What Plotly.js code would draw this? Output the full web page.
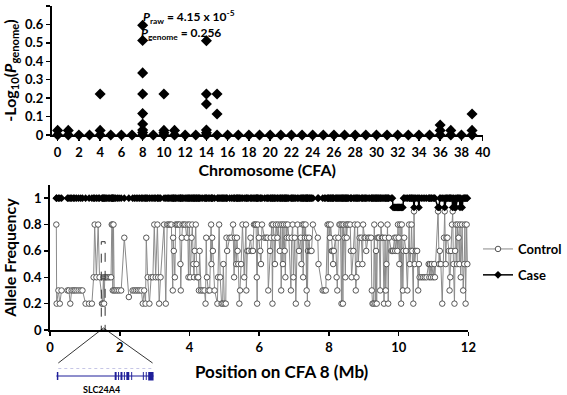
<!DOCTYPE html>
<html><head><meta charset="utf-8">
<script src="https://cdn.plot.ly/plotly-3.0.1.min.js"></script>
<style>html,body{margin:0;padding:0;background:#fff;}#chart{width:567px;height:395px;}</style>
</head><body><div id="chart"></div>
<script>
// ---- Top panel: genome-wide -log10(P_genome) by chromosome ----
const topChromosome = [
  0,1,2,3,4,5,6,7,8,9,10,11,12,13,14,15,16,17,18,19,
  20,21,22,23,24,25,26,27,28,29,30,31,32,33,34,35,36,37,38,39,
  0,1,4,4,8,8,8,8,8,8,8,8,10,10,10,11,14,14,14,14,14,15,15,36,36,37,39,39
];
const topNegLogP = [
  0,0,0,0,0,0,0,0,0,0,0,0,0,0,0,0,0,0,0,0,
  0,0,0,0,0,0,0,0,0,0,0,0,0,0,0,0,0,0,0,0,
  0.025,0.025,0.222,0.025,0.596,0.513,0.337,0.222,0.116,0.06,0.027,0.013,0.222,0.025,0.012,0.025,
  0.511,0.222,0.168,0.027,0.012,0.222,0.114,0.054,0.025,0.025,0.114,0.025
];
const chromTicks = [0,2,4,6,8,10,12,14,16,18,20,22,24,26,28,30,32,34,36,38,40];

// ---- Bottom panel: allele frequency along CFA 8 ----
const positionsMb = [
  0.18,0.19,0.24,0.28,0.33,0.50,0.54,0.58,0.62,0.67,
  0.71,0.76,0.82,0.88,0.93,1.02,1.12,1.20,1.25,1.28,
  1.33,1.38,1.42,1.49,1.51,1.53,1.55,1.57,1.60,1.63,
  1.67,1.71,1.75,1.77,1.79,1.80,1.82,1.84,1.88,1.93,
  1.98,2.04,2.13,2.26,2.37,
  2.42,2.47,2.52,2.57,2.62,2.66,2.70,2.74,2.76,2.80,
  2.85,2.90,2.95,2.99,3.03,3.08,3.10,3.13,3.17,3.27,
  3.32,3.36,3.40,3.44,3.48,3.52,3.53,3.55,3.58,3.60,
  3.64,3.68,3.72,3.74,3.75,3.78,3.80,3.84,3.88,3.92,
  3.95,3.97,4.00,4.02,4.06,4.08,4.11,4.13,4.15,4.18,
  4.20,4.22,4.25,4.27,4.29,4.33,4.38,4.43,4.46,4.48,
  4.50,4.54,4.58,4.62,4.63,4.65,4.67,4.72,4.80,4.82,
  4.85,4.88,4.92,4.95,4.97,5.00,5.04,5.06,5.08,5.15,
  5.20,5.25,5.28,5.30,5.34,5.36,5.38,5.40,5.43,5.45,
  5.48,5.52,5.57,5.62,5.63,5.66,5.70,5.75,5.78,5.82,
  5.85,5.88,5.91,5.93,5.94,5.96,5.99,6.03,6.05,6.08,
  6.15,6.20,6.24,6.26,6.31,6.33,6.36,6.38,6.40,6.43,
  6.45,6.48,6.52,6.54,6.59,6.61,6.63,6.66,6.68,6.71,
  6.73,6.75,6.77,6.79,6.82,6.85,6.91,6.93,6.96,6.98,
  7.02,7.05,7.10,7.14,7.19,7.21,
  7.24,7.26,7.28,7.31,7.33,7.36,7.37,7.38,7.40,7.43,
  7.45,7.48,7.50,7.54,7.68,7.70,7.82,7.87,7.91,7.96,
  7.98,8.00,8.03,8.05,8.08,8.10,8.12,8.14,8.19,8.22,
  8.24,8.27,8.30,8.33,8.36,8.38,8.40,8.42,8.45,8.47,
  8.49,8.51,8.53,8.56,8.61,8.63,8.65,8.70,8.74,8.77,
  8.79,8.82,8.84,8.88,8.93,8.96,8.98,9.02,9.05,9.07,
  9.12,9.16,9.21,9.23,9.25,9.28,9.30,9.33,9.35,9.37,
  9.39,9.42,9.44,9.47,9.49,9.52,9.55,9.58,
  9.61,9.63,9.65,9.68,9.70,9.72,9.79,9.82,9.84,9.88,
  9.90,9.93,9.96,9.98,10.00,10.02,10.04,10.07,10.09,10.12,
  10.14,10.16,10.21,10.25,10.30,10.32,10.35,10.37,10.39,10.42,
  10.44,10.46,10.49,10.53,10.56,10.58,10.60,10.65,10.70,10.75,
  10.80,10.86,10.88,10.90,10.93,10.95,10.99,11.02,11.04,11.13,
  11.16,11.18,11.21,11.25,11.30,11.32,11.35,11.37,11.40,11.44,
  11.46,11.48,11.50,11.53,11.55,11.57,11.60,11.62,11.64,11.67,
  11.69,11.72,11.74,11.76,11.78,11.82,11.85,11.88,11.90,11.92,
  11.95,11.97
];
const controlFreq = [
  0.8,0.2,0.3,0.2,0.3,0.3,0.3,0.2,0.3,0.3,
  0.3,0.3,0.3,0.3,0.3,0.2,0.2,0.2,0.4,0.8,
  0.4,0.8,0.4,0.2,0.2,0.4,0.2,0.4,0.4,0.4,
  0.4,0.4,0.4,0.8,0.8,0.3,0.8,0.3,0.3,0.3,
  0.3,0.3,0.7,0.25,0.3,
  0.3,0.3,0.3,0.3,0.3,0.2,0.3,0.2,0.7,0.4,
  0.2,0.4,0.4,0.8,0.4,0.8,0.4,0.2,0.4,0.8,
  0.2,0.8,0.8,0.8,0.8,0.3,0.7,0.6,0.4,0.8,
  0.8,0.8,0.8,0.5,0.3,0.7,0.8,0.8,0.8,0.7,
  0.8,0.4,0.8,0.4,0.7,0.8,0.5,0.4,0.6,0.8,
  0.5,0.4,0.4,0.3,0.6,0.3,0.3,0.3,0.2,0.7,
  0.4,0.3,0.3,0.8,0.5,0.7,0.6,0.3,0.2,0.4,
  0.8,0.4,0.2,0.2,0.5,0.2,0.2,0.7,0.6,0.7,
  0.7,0.8,0.4,0.7,0.5,0.7,0.6,0.5,0.2,0.3,
  0.5,0.8,0.4,0.8,0.3,0.6,0.6,0.7,0.6,0.6,
  0.8,0.8,0.8,0.4,0.2,0.8,0.7,0.6,0.5,0.8,
  0.7,0.7,0.7,0.3,0.6,0.7,0.8,0.2,0.8,0.7,
  0.5,0.8,0.7,0.8,0.6,0.8,0.3,0.8,0.5,0.8,
  0.6,0.4,0.8,0.7,0.8,0.7,0.3,0.7,0.8,0.4,
  0.7,0.2,0.8,0.6,0.7,0.5,
  0.8,0.4,0.8,0.7,0.8,0.3,0.7,0.2,0.6,0.7,
  0.6,0.6,0.6,0.8,0.7,0.5,0.3,0.3,0.3,0.8,
  0.4,0.8,0.7,0.8,0.6,0.6,0.5,0.6,0.7,0.4,
  0.3,0.7,0.8,0.8,0.2,0.8,0.2,0.8,0.7,0.4,
  0.8,0.7,0.8,0.8,0.8,0.6,0.4,0.6,0.8,0.3,
  0.4,0.8,0.5,0.7,0.7,0.5,0.8,0.7,0.7,0.6,
  0.7,0.7,0.7,0.3,0.2,0.2,0.8,0.2,0.6,0.2,
  0.7,0.7,0.7,0.3,0.8,0.7,0.7,0.2,
  0.7,0.3,0.5,0.8,0.2,0.7,0.6,0.6,0.6,0.7,
  0.6,0.7,0.6,0.8,0.7,0.5,0.8,0.2,0.8,0.3,
  0.6,0.7,0.6,0.3,0.8,0.5,0.6,0.8,0.6,0.2,
  0.9,0.5,0.6,0.6,0.3,0.5,0.4,0.4,0.4,0.4,
  0.4,0.5,0.4,0.5,0.4,0.5,0.4,0.5,0.4,0.9,
  0.5,0.6,0.5,0.2,0.7,0.9,0.5,0.7,0.7,0.6,
  0.3,0.4,0.6,0.8,0.9,0.5,0.2,0.6,0.8,0.5,
  0.8,0.7,0.5,0.8,0.4,0.8,0.3,0.5,0.8,0.2,
  0.8,0.5
];
const caseFreq = [
  1,1,1,1,1,1,1,1,1,1, 1,1,1,1,1,1,1,1,1,1, 1,1,1,1,1,1,1,1,1,1, 1,1,1,1,1,1,1,1,1,1, 1,1,1,1,1,
  1,1,1,1,1,1,1,1,1,1, 1,1,1,1,1,1,1,1,1,1, 1,1,1,1,1,1,1,1,1,1, 1,1,1,1,1,1,1,1,1,1,
  1,1,1,1,1,1,1,1,1,1, 1,1,1,1,1,1,1,1,1,1, 1,1,1,1,1,1,1,1,1,1,
  1,1,1,1,1,1,1,1,1,1, 1,1,1,1,1,1,1,1,1,1, 1,1,1,1,1,1,1,1,1,1, 1,1,1,1,1,1,1,1,1,1,
  1,1,1,1,1,1,1,1,1,1, 1,1,1,1,1,1,1,1,1,1, 1,1,1,1,1,1,1,1,1,1, 1,1,1,1,1,1,
  1,1,1,1,1,1,1,1,1,1, 1,1,1,1,1,1,1,1,1,1, 1,1,1,1,1,1,1,1,1,1, 1,1,1,1,1,1,1,1,1,1,
  1,1,1,1,1,1,1,1,1,1, 1,1,1,1,1,1,1,1,1,1, 1,1,1,1,1,1,1,1,1,1, 1,1,1,1,1,1,1,1,
  1,1,1,1,1,1,1,1,0.93,0.93,
  0.93,0.93,0.93,0.93,0.93,0.93,0.93,0.93,0.93,0.93,
  1,1,1,1,1,1,1,1,1,1,
  0.93,1,1,1,1,0.93,1,1,1,1,
  1,1,1,1,1,1,1,1,1,0.93,
  0.93,1,1,1,1,0.93,1,1,1,1,
  1,1,1,1,0.93,1,0.93,1,0.93,1,
  1,1,1,0.93,1,0.93,1,1,1,1,
  1,1
];
const freqTicks = [0,0.2,0.4,0.6,0.8,1];
const posTicks = [0,2,4,6,8,10,12];
// SLC24A4 location on CFA 8 (Mb) and height of the marker box
const geneSpanMb = [1.47, 1.58];
const geneBoxTop = 0.67;

const W = 567, H = 395;
const px = v => v / W;
const py = v => 1 - v / H;
const FONT = 'Lato, "Open Sans", sans-serif';
const bold = (s, c) => ({family: FONT, size: s, color: c || '#000', weight: 'bold'});

const traces = [
  {
    x: topChromosome, y: topNegLogP, type: 'scatter', mode: 'markers',
    xaxis: 'x', yaxis: 'y', showlegend: false, cliponaxis: false,
    marker: {symbol: 'diamond', size: 8.5, color: '#000'}
  },
  {
    name: 'Control', x: positionsMb, y: controlFreq, type: 'scatter', mode: 'lines+markers',
    xaxis: 'x2', yaxis: 'y2', legendgroup: 'c', cliponaxis: false,
    line: {color: '#8a8a8a', width: 1},
    marker: {symbol: 'circle', size: 5.5, color: '#fff', line: {color: '#555', width: 1}}
  },
  {
    name: 'Case', x: positionsMb, y: caseFreq, type: 'scatter', mode: 'lines+markers',
    xaxis: 'x2', yaxis: 'y2', legendgroup: 'd', cliponaxis: false,
    line: {color: '#000', width: 1.5},
    marker: {symbol: 'diamond', size: 6, color: '#000'}
  }
];

const axBase = {
  showline: true, linecolor: '#000', linewidth: 2, ticks: 'outside', ticklen: 4,
  tickwidth: 1.5, tickcolor: '#000', showgrid: false, zeroline: false,
  tickfont: bold(13), automargin: false, fixedrange: true
};

// gene model (inset) drawn in pixel-space decoration
const exons = [[58.5,60],[118,120],[121.5,122.5],[124,126],[127.5,128.5],[130,133],[135,136],[147,148],[150,151]];
const geneColor = '#1f1f99';
const shapes = [
  {type: 'rect', xref: 'x2', yref: 'y2', x0: geneSpanMb[0], x1: geneSpanMb[1], y0: 0, y1: geneBoxTop,
   line: {color: '#333', width: 1, dash: 'dash'}},
  {type: 'line', xref: 'paper', yref: 'paper', x0: px(106.5), y0: py(328), x1: px(60), y1: py(363), line: {color: '#000', width: 0.8}},
  {type: 'line', xref: 'paper', yref: 'paper', x0: px(106.5), y0: py(328), x1: px(157), y1: py(363), line: {color: '#000', width: 0.8}},
  {type: 'line', xref: 'paper', yref: 'paper', x0: px(58), y0: py(376), x1: px(158), y1: py(376), line: {color: geneColor, width: 1}},
  {type: 'line', xref: 'paper', yref: 'paper', x0: px(60), y0: py(368.5), x1: px(157), y1: py(368.5), line: {color: '#b8b8e0', width: 0.8, dash: 'dot'}},
  {type: 'rect', xref: 'paper', yref: 'paper', x0: px(152.5), x1: px(158), y0: py(380.5), y1: py(372), fillcolor: geneColor, line: {width: 0}}
];
exons.forEach(e => shapes.push({type: 'rect', xref: 'paper', yref: 'paper', x0: px(e[0]), x1: px(e[1]),
  y0: py(380), y1: py(372), fillcolor: geneColor, line: {width: 0}}));

const layout = {
  width: W, height: H, margin: {l: 0, r: 0, t: 0, b: 0},
  paper_bgcolor: '#fff', plot_bgcolor: '#fff',
  font: {family: FONT, color: '#000'},
  xaxis: Object.assign({}, axBase, {
    domain: [px(53.3), px(496.7)], range: [-0.55, 40], tickvals: chromTicks, anchor: 'y',
    title: {text: 'Chromosome (CFA)', font: bold(16), standoff: 4}
  }),
  yaxis: Object.assign({}, axBase, {
    domain: [py(135), py(6)], range: [0, 0.7], dtick: 0.1, tick0: 0, anchor: 'x',
    title: {text: '-Log<sub>10</sub>(<i>P</i><sub>genome</sub>)', font: bold(16), standoff: 5}
  }),
  xaxis2: Object.assign({}, axBase, {
    domain: [px(51.5), px(482)], range: [0, 12], tickvals: posTicks, anchor: 'y2'
  }),
  yaxis2: Object.assign({}, axBase, {
    domain: [py(330), py(185)], range: [0, 1.1], tickvals: freqTicks, anchor: 'x2',
    title: {text: 'Allele Frequency', font: bold(16), standoff: 6}
  }),
  showlegend: true,
  legend: {x: px(492), y: py(234), xanchor: 'left', yanchor: 'top', font: bold(13),
    bgcolor: 'rgba(0,0,0,0)', tracegroupgap: 6, itemwidth: 30},
  shapes: shapes,
  annotations: [
    {xref: 'paper', yref: 'paper', x: px(145), y: py(17), xanchor: 'left', yanchor: 'middle', showarrow: false,
     text: '<i>P</i><sub>raw</sub> = 4.15 x 10<sup>-5</sup>', font: bold(12)},
    {xref: 'paper', yref: 'paper', x: px(143), y: py(33), xanchor: 'left', yanchor: 'middle', showarrow: false,
     text: '<i>P</i><sub>genome</sub> = 0.256', font: bold(12)},
    {xref: 'paper', yref: 'paper', x: px(290), y: py(371), xanchor: 'center', yanchor: 'middle', showarrow: false,
     text: 'Position on CFA 8 (Mb)', font: bold(17)},
    {xref: 'paper', yref: 'paper', x: px(104), y: py(389), xanchor: 'center', yanchor: 'middle', showarrow: false,
     text: 'SLC24A4', font: bold(9)}
  ]
};

Plotly.newPlot('chart', traces, layout, {displayModeBar: false, staticPlot: true});
</script></body></html>
